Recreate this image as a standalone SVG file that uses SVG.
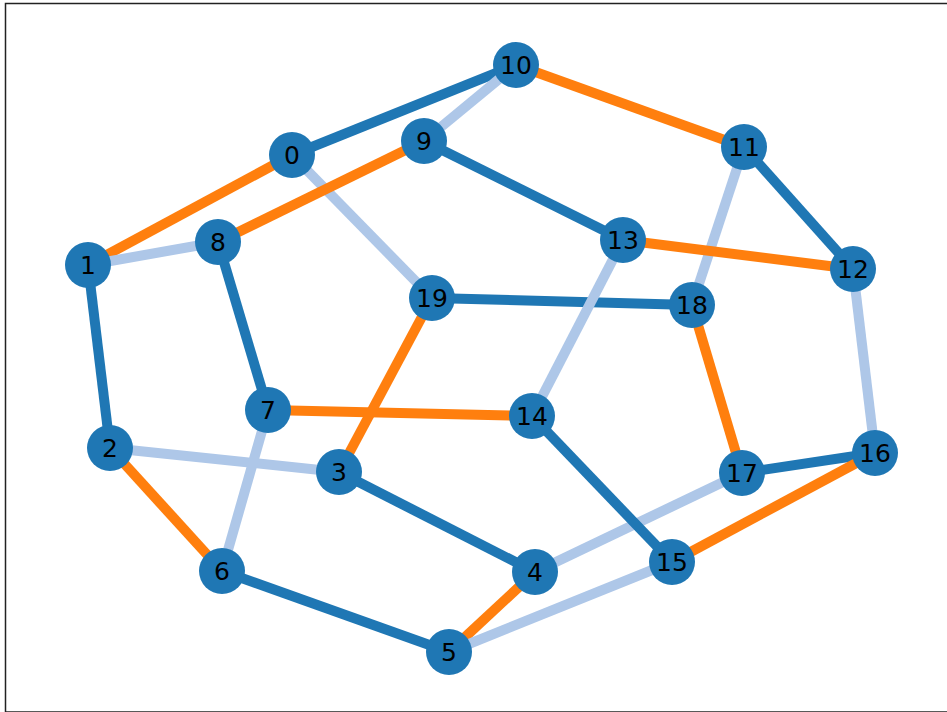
<svg xmlns="http://www.w3.org/2000/svg" width="947" height="712" viewBox="0 0 947 712">
<style>
.e{stroke-width:10;stroke-linecap:butt;fill:none}
.d{stroke:#1f77b4}
.o{stroke:#ff7f0e}
.l{stroke:#aec7e8}
.n circle{fill:#1f77b4}
.n text{font-family:"DejaVu Sans",sans-serif;font-size:25px;fill:#000;text-anchor:middle;dominant-baseline:central}
</style>
<rect x="0" y="0" width="947" height="712" fill="#fff"/>
<rect x="5.5" y="3.5" width="950" height="708.5" fill="none" stroke="#222" stroke-width="1.5"/>
<g id="edges">
<line class="e d" x1="292" y1="155" x2="516" y2="65"/>
<line class="e o" x1="292" y1="155" x2="88" y2="265"/>
<line class="e l" x1="292" y1="155" x2="432" y2="298"/>
<line class="e l" x1="88" y1="265" x2="218" y2="242"/>
<line class="e d" x1="88" y1="265" x2="110" y2="448"/>
<line class="e l" x1="110" y1="448" x2="339" y2="472"/>
<line class="e o" x1="110" y1="448" x2="222" y2="571"/>
<line class="e o" x1="218" y1="242" x2="424" y2="141"/>
<line class="e d" x1="218" y1="242" x2="268" y2="410"/>
<line class="e o" x1="268" y1="410" x2="532" y2="416"/>
<line class="e l" x1="268" y1="410" x2="222" y2="571"/>
<line class="e d" x1="222" y1="571" x2="449" y2="652"/>
<line class="e o" x1="449" y1="652" x2="535" y2="572"/>
<line class="e l" x1="449" y1="652" x2="672" y2="562"/>
<line class="e d" x1="535" y1="572" x2="339" y2="472"/>
<line class="e l" x1="535" y1="572" x2="742" y2="473"/>
<line class="e o" x1="339" y1="472" x2="432" y2="298"/>
<line class="e d" x1="432" y1="298" x2="692" y2="305"/>
<line class="e l" x1="692" y1="305" x2="744" y2="147"/>
<line class="e o" x1="692" y1="305" x2="742" y2="473"/>
<line class="e d" x1="742" y1="473" x2="875" y2="453"/>
<line class="e o" x1="875" y1="453" x2="672" y2="562"/>
<line class="e l" x1="875" y1="453" x2="853" y2="269"/>
<line class="e d" x1="672" y1="562" x2="532" y2="416"/>
<line class="e l" x1="532" y1="416" x2="623" y2="240"/>
<line class="e o" x1="623" y1="240" x2="853" y2="269"/>
<line class="e d" x1="623" y1="240" x2="424" y2="141"/>
<line class="e l" x1="424" y1="141" x2="516" y2="65"/>
<line class="e o" x1="516" y1="65" x2="744" y2="147"/>
<line class="e d" x1="744" y1="147" x2="853" y2="269"/>
</g>
<g id="node0" class="n"><circle cx="292" cy="155" r="23"/><text x="292" y="155">0</text></g>
<g id="node1" class="n"><circle cx="88" cy="265" r="23"/><text x="88" y="265">1</text></g>
<g id="node2" class="n"><circle cx="110" cy="448" r="23"/><text x="110" y="448">2</text></g>
<g id="node3" class="n"><circle cx="339" cy="472" r="23"/><text x="339" y="472">3</text></g>
<g id="node4" class="n"><circle cx="535" cy="572" r="23"/><text x="535" y="572">4</text></g>
<g id="node5" class="n"><circle cx="449" cy="652" r="23"/><text x="449" y="652">5</text></g>
<g id="node6" class="n"><circle cx="222" cy="571" r="23"/><text x="222" y="571">6</text></g>
<g id="node7" class="n"><circle cx="268" cy="410" r="23"/><text x="268" y="410">7</text></g>
<g id="node8" class="n"><circle cx="218" cy="242" r="23"/><text x="218" y="242">8</text></g>
<g id="node9" class="n"><circle cx="424" cy="141" r="23"/><text x="424" y="141">9</text></g>
<g id="node10" class="n"><circle cx="516" cy="65" r="23"/><text x="516" y="65">10</text></g>
<g id="node11" class="n"><circle cx="744" cy="147" r="23"/><text x="744" y="147">11</text></g>
<g id="node12" class="n"><circle cx="853" cy="269" r="23"/><text x="853" y="269">12</text></g>
<g id="node13" class="n"><circle cx="623" cy="240" r="23"/><text x="623" y="240">13</text></g>
<g id="node14" class="n"><circle cx="532" cy="416" r="23"/><text x="532" y="416">14</text></g>
<g id="node15" class="n"><circle cx="672" cy="562" r="23"/><text x="672" y="562">15</text></g>
<g id="node16" class="n"><circle cx="875" cy="453" r="23"/><text x="875" y="453">16</text></g>
<g id="node17" class="n"><circle cx="742" cy="473" r="23"/><text x="742" y="473">17</text></g>
<g id="node18" class="n"><circle cx="692" cy="305" r="23"/><text x="692" y="305">18</text></g>
<g id="node19" class="n"><circle cx="432" cy="298" r="23"/><text x="432" y="298">19</text></g>
</svg>
